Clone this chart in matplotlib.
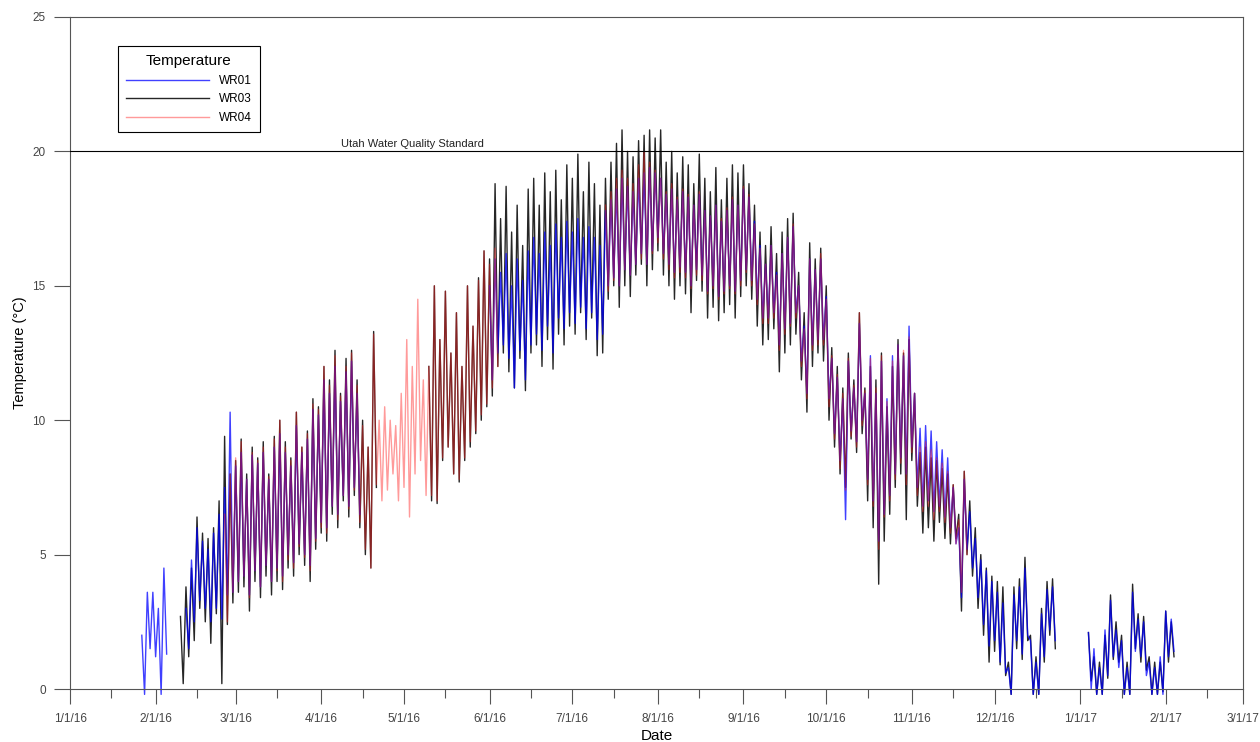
import matplotlib
matplotlib.use("Agg")
import matplotlib.pyplot as plt
import matplotlib.dates as mdates
import numpy as np

plt.rcParams["font.family"] = ["Liberation Sans", "DejaVu Sans"]

# Daily (high, low) readings, one pair every two days, per continuous logger record.
# WR01
wr01_start = ["2016-01-27", "2016-02-12", "2016-06-01", "2017-01-04"]
wr01_jan = [(2.0, -0.2), (3.6, 1.5), (3.6, 1.2), (3.0, -0.2), (4.5, 1.3)]
wr01_spring = [
    (3.0, 1.5), (4.8, 2.5), (6.0, 3.3), (5.5, 3.0), (5.2, 2.5), (5.8, 3.0), (6.5, 2.6), (7.5, 3.5),
    (10.3, 3.6), (8.3, 4.0), (8.8, 4.2), (7.8, 3.5), (8.7, 4.4), (8.4, 3.8), (8.8, 4.6), (7.8, 4.0),
    (9.0, 4.5), (9.5, 4.2), (8.8, 5.0), (8.3, 4.7), (9.8, 5.4), (8.8, 5.0), (9.3, 4.6), (10.4, 5.6),
    (10.2, 6.2), (11.5, 6.0), (11.0, 6.8), (12.0, 6.5), (10.7, 7.2), (11.8, 6.8), (12.2, 7.5), (11.0, 6.5),
]
wr01_summer = [
    (15.0, 11.5), (16.0, 12.5), (15.5, 12.8), (16.2, 12.3), (15.0, 11.2), (16.0, 12.6), (15.2, 11.5),
    (16.3, 12.8), (16.8, 13.2), (16.2, 12.6), (17.0, 13.5), (16.5, 12.5), (17.3, 13.8), (16.8, 13.4),
    (17.4, 14.0), (17.0, 13.6), (17.5, 14.2), (16.8, 13.4), (17.2, 14.0), (16.8, 13.0), (16.5, 13.2),
    (17.8, 15.0), (18.2, 15.3), (18.6, 15.0), (19.0, 15.6), (18.7, 15.4), (18.5, 15.8), (19.0, 16.2),
    (19.2, 15.8), (19.4, 16.3), (19.2, 16.8), (19.0, 16.2), (18.4, 15.8), (18.6, 15.5), (18.2, 15.7),
    (18.5, 15.5), (18.3, 15.0), (18.0, 15.6), (18.4, 15.4), (17.8, 14.8), (17.6, 15.0), (18.0, 14.6),
    (17.4, 14.8), (17.8, 15.0), (18.2, 14.8), (18.0, 15.2), (18.6, 15.6), (18.3, 15.2), (17.4, 14.5),
    (16.5, 13.8), (15.8, 13.8), (16.5, 14.0), (15.5, 12.8), (16.2, 13.4), (16.8, 13.6), (17.2, 14.0),
    (15.0, 12.2), (13.5, 11.0), (16.0, 12.8), (15.6, 13.0), (16.0, 13.0), (14.6, 10.8), (12.3, 9.5),
    (11.6, 8.5), (10.8, 6.3), (12.2, 9.6), (11.2, 9.2), (13.6, 10.0), (11.0, 7.8), (12.4, 7.0),
    (11.0, 5.5), (12.2, 6.5), (10.8, 7.2), (12.4, 8.0), (12.8, 8.6), (12.4, 8.0), (13.5, 9.0),
    (11.0, 7.5), (9.7, 6.8), (9.8, 7.0), (9.6, 6.6), (9.2, 6.8), (8.9, 6.4), (8.6, 6.0), (7.5, 5.4),
    (6.0, 3.4), (7.8, 5.2), (6.6, 4.5), (5.6, 3.4), (4.8, 2.4), (4.4, 1.6), (4.0, 1.8), (3.6, 1.0),
    (3.2, 0.6), (0.8, -0.2), (3.5, 1.8), (3.8, 1.3), (4.5, 2.0), (1.8, -0.2), (1.0, -0.2), (2.8, 1.2),
    (3.7, 2.2), (3.8, 1.8),
]
wr01_winter = [
    (2.1, 0.0), (1.5, -0.2), (0.8, -0.2), (2.2, 0.5), (3.3, 1.2), (2.2, 0.8), (1.8, -0.2), (0.8, -0.2),
    (3.6, 1.4), (2.6, 1.2), (2.5, 0.5), (1.0, -0.2), (0.8, -0.2), (1.2, -0.2), (2.9, 1.2), (2.6, 1.4),
]

# WR03
wr03_start = ["2016-02-10", "2016-05-10", "2017-01-04"]
wr03_spring = [
    (2.7, 0.2), (3.8, 1.2), (4.5, 1.8), (6.4, 3.0), (5.8, 2.5), (5.6, 1.7), (6.0, 2.8), (7.0, 0.2),
    (9.4, 2.4), (8.0, 3.2), (8.5, 3.6), (9.3, 3.8), (8.0, 2.9), (9.0, 4.0), (8.6, 3.4), (9.2, 4.2),
    (8.0, 3.5), (9.4, 4.0), (10.0, 3.7), (9.2, 4.5), (8.6, 4.2), (10.3, 5.0), (9.0, 4.6), (9.6, 4.0),
    (10.8, 5.2), (10.5, 5.8), (12.0, 5.5), (11.5, 6.5), (12.6, 6.0), (11.0, 7.0), (12.3, 6.4),
    (12.6, 7.2), (11.5, 6.0), (10.0, 5.0), (9.0, 4.5), (13.3, 7.5),
]
wr03_summer = [
    (12.0, 7.0), (15.0, 6.9), (13.0, 8.5), (14.8, 9.0), (12.5, 8.0), (14.0, 7.7), (12.0, 8.5),
    (15.0, 9.0), (13.5, 9.5), (15.3, 10.0), (16.3, 10.5), (16.0, 10.9), (18.8, 12.0), (17.5, 12.5),
    (18.7, 11.8), (17.0, 11.2), (18.0, 12.3), (16.5, 11.1), (18.6, 12.5), (19.0, 12.8), (18.0, 12.0),
    (19.2, 13.0), (18.5, 11.9), (19.3, 13.2), (18.2, 12.8), (19.5, 13.5), (19.0, 13.2), (19.9, 14.0),
    (18.5, 13.0), (19.6, 13.8), (18.8, 12.4), (18.0, 12.5), (19.0, 14.5), (19.6, 15.0), (20.3, 14.2),
    (20.8, 15.0), (20.0, 14.6), (19.8, 15.4), (20.4, 15.8), (20.6, 15.0), (20.8, 15.6), (20.5, 16.3),
    (20.8, 15.4), (19.6, 15.0), (20.0, 14.5), (19.2, 15.0), (19.8, 14.7), (19.5, 14.0), (18.8, 15.2),
    (19.9, 14.8), (19.0, 13.8), (18.5, 14.2), (19.4, 13.7), (18.2, 14.0), (19.0, 14.3), (19.5, 13.8),
    (19.2, 14.6), (19.5, 15.0), (18.8, 14.5), (18.0, 13.5), (17.0, 12.8), (16.5, 13.0), (17.2, 13.4),
    (16.2, 11.8), (17.0, 12.5), (17.5, 12.8), (17.7, 13.2), (15.5, 11.5), (14.0, 10.3), (16.6, 12.0),
    (16.0, 12.5), (16.4, 12.2), (15.0, 10.0), (12.7, 9.0), (12.0, 8.0), (11.2, 7.5), (12.5, 9.3),
    (11.5, 8.8), (14.0, 9.5), (11.2, 7.0), (12.0, 6.0), (11.5, 3.9), (12.5, 5.5), (10.5, 6.5),
    (12.0, 7.5), (13.0, 8.0), (12.5, 6.3), (13.0, 8.5), (11.0, 6.8), (8.8, 5.8), (9.0, 6.0),
    (8.6, 5.5), (8.5, 6.2), (8.2, 5.6), (8.0, 5.4), (7.6, 5.6), (6.5, 2.9), (8.1, 5.0), (7.0, 4.2),
    (6.0, 3.0), (5.0, 2.0), (4.5, 1.0), (4.2, 1.4), (4.0, 0.9), (3.8, 0.5), (1.0, -0.2), (3.8, 1.5),
    (4.1, 1.1), (4.9, 1.8), (2.0, -0.2), (1.2, -0.2), (3.0, 1.0), (4.0, 2.0), (4.1, 1.5),
]
wr03_winter = [
    (2.1, 0.3), (1.2, -0.2), (1.0, -0.2), (2.0, 0.4), (3.5, 1.1), (2.5, 1.0), (2.0, -0.2), (1.0, -0.2),
    (3.9, 1.5), (2.8, 1.0), (2.7, 0.7), (1.2, -0.2), (1.0, -0.2), (1.0, -0.1), (2.9, 1.0), (2.5, 1.2),
]

# WR04
wr04_start = ["2016-02-26", "2016-07-13"]
wr04_spring = [
    (6.5, 2.5), (8.0, 3.6), (8.6, 4.0), (9.2, 4.2), (7.8, 3.4), (8.8, 4.4), (8.5, 3.8), (9.0, 4.6),
    (7.9, 4.0), (9.3, 4.4), (10.0, 4.0), (9.0, 4.8), (8.5, 4.5), (10.3, 5.3), (9.0, 4.9), (9.5, 4.4),
    (10.6, 5.5), (10.4, 6.0), (12.0, 5.8), (11.3, 6.8), (12.4, 6.3), (10.9, 7.2), (12.0, 6.7),
    (12.5, 7.4), (11.3, 6.2), (9.8, 5.2), (9.0, 4.5), (13.2, 7.6), (10.0, 7.0), (10.5, 7.4),
    (10.0, 8.0), (9.8, 7.0), (11.0, 7.5), (13.0, 6.4), (12.0, 8.0), (14.5, 8.5), (11.5, 7.2),
    (12.0, 7.2), (15.0, 7.0), (13.0, 8.6), (14.8, 9.0), (12.5, 8.0), (14.0, 7.8), (12.0, 8.6),
    (15.0, 9.2), (13.5, 9.6), (15.2, 10.2), (16.3, 10.6), (15.8, 11.2), (16.4, 12.0),
]
wr04_summer = [
    (18.0, 14.8), (18.5, 15.2), (19.0, 15.0), (19.3, 15.6), (19.0, 15.4), (18.8, 15.8), (19.5, 16.0),
    (20.0, 15.8), (19.6, 16.2), (19.3, 16.6), (19.0, 16.0), (18.5, 15.6), (18.8, 15.3), (18.3, 15.5),
    (18.6, 15.3), (18.4, 14.9), (18.0, 15.4), (18.5, 15.2), (17.8, 14.7), (17.6, 14.9), (18.0, 14.5),
    (17.5, 14.7), (17.9, 14.9), (18.3, 14.7), (18.0, 15.0), (18.7, 15.5), (18.4, 15.0), (17.3, 14.3),
    (16.4, 13.6), (15.8, 13.6), (16.5, 13.8), (15.4, 12.6), (16.2, 13.2), (16.8, 13.5), (17.3, 13.8),
    (15.0, 12.0), (13.4, 10.8), (16.0, 12.6), (15.6, 12.8), (16.2, 12.8), (14.5, 10.5), (12.4, 9.3),
    (11.7, 8.2), (11.0, 7.4), (12.3, 9.4), (11.3, 9.0), (14.0, 9.8), (11.1, 7.6), (12.3, 6.8),
    (11.2, 5.2), (12.4, 6.4), (10.7, 7.0), (12.2, 7.8), (12.8, 8.4), (12.6, 7.6), (13.1, 8.8),
    (11.0, 7.2), (9.0, 6.6), (9.2, 6.8), (8.9, 6.3), (8.6, 6.6), (8.4, 6.2), (8.1, 5.8), (7.6, 5.4),
    (6.3, 3.6), (8.1, 5.0),
]

STANDARD = 20


def zigzag(start, pairs):
    # high on day 2k, low on day 2k+1
    offs = np.arange(2 * len(pairs))
    t = np.datetime64(start) + offs.astype("timedelta64[D]")
    v = np.array(pairs, dtype=float).ravel()
    return t, v


def date_label(x, pos):
    d = mdates.num2date(x)
    return f"{d.month}/{d.day}/{d.strftime('%y')}"


fig = plt.figure(figsize=(12.6, 7.42), dpi=100)
ax = fig.add_axes([0.0556, 0.0714, 0.9309, 0.9057])

series = [
    ("WR03", "black", 0.85, wr03_start, [wr03_spring, wr03_summer, wr03_winter], 1),
    ("WR01", "#0000ff", 0.75, wr01_start, [wr01_jan, wr01_spring, wr01_summer, wr01_winter], 2),
    ("WR04", "#ff2020", 0.45, wr04_start, [wr04_spring, wr04_summer], 3),
]
handles = {}
for name, color, alpha, starts, segs, z in series:
    for start, pairs in zip(starts, segs):
        t, v = zigzag(start, pairs)
        (ln,) = ax.plot(t, v, color=color, alpha=alpha, lw=1.0, zorder=z, clip_on=False)
    handles[name] = ln

ax.axhline(STANDARD, color="black", lw=0.8, zorder=4)
ax.text(np.datetime64("2016-04-08"), STANDARD + 0.1, "Utah Water Quality Standard",
        fontsize=8, va="bottom", ha="left", color="#222222")

ax.set_xlim(np.datetime64("2016-01-01"), np.datetime64("2017-03-01"))
ax.set_ylim(0, 25)
ax.set_yticks([0, 5, 10, 15, 20, 25])
ax.xaxis.set_major_locator(mdates.MonthLocator())
ax.xaxis.set_minor_locator(mdates.MonthLocator(bymonthday=16))
ax.xaxis.set_major_formatter(plt.FuncFormatter(date_label))
ax.tick_params(axis="x", which="major", direction="out", length=11, width=0.8, pad=6,
               labelsize=8.5, labelcolor="#444444", color="#555555")
ax.tick_params(axis="x", which="minor", direction="out", length=6.5, width=0.8, color="#555555")
ax.tick_params(axis="y", direction="out", length=11.5, width=0.8, pad=6,
               labelsize=8.5, labelcolor="#444444", color="#555555")
for s in ax.spines.values():
    s.set_color("#555555")
    s.set_linewidth(0.8)

ax.set_xlabel("Date", fontsize=11, labelpad=3)
ax.set_ylabel("Temperature (°C)", fontsize=10.5, labelpad=4)

leg = ax.legend([handles["WR01"], handles["WR03"], handles["WR04"]], ["WR01", "WR03", "WR04"],
                title="Temperature", loc="upper left", bbox_to_anchor=(0.041, 0.957),
                fontsize=8.5, title_fontsize=11, handlelength=7, fancybox=False,
                edgecolor="black", framealpha=1, borderpad=0.7, labelspacing=0.55,
                handletextpad=0.8, borderaxespad=0)
leg.get_frame().set_linewidth(0.8)

fig.savefig("out.png", dpi=100)
